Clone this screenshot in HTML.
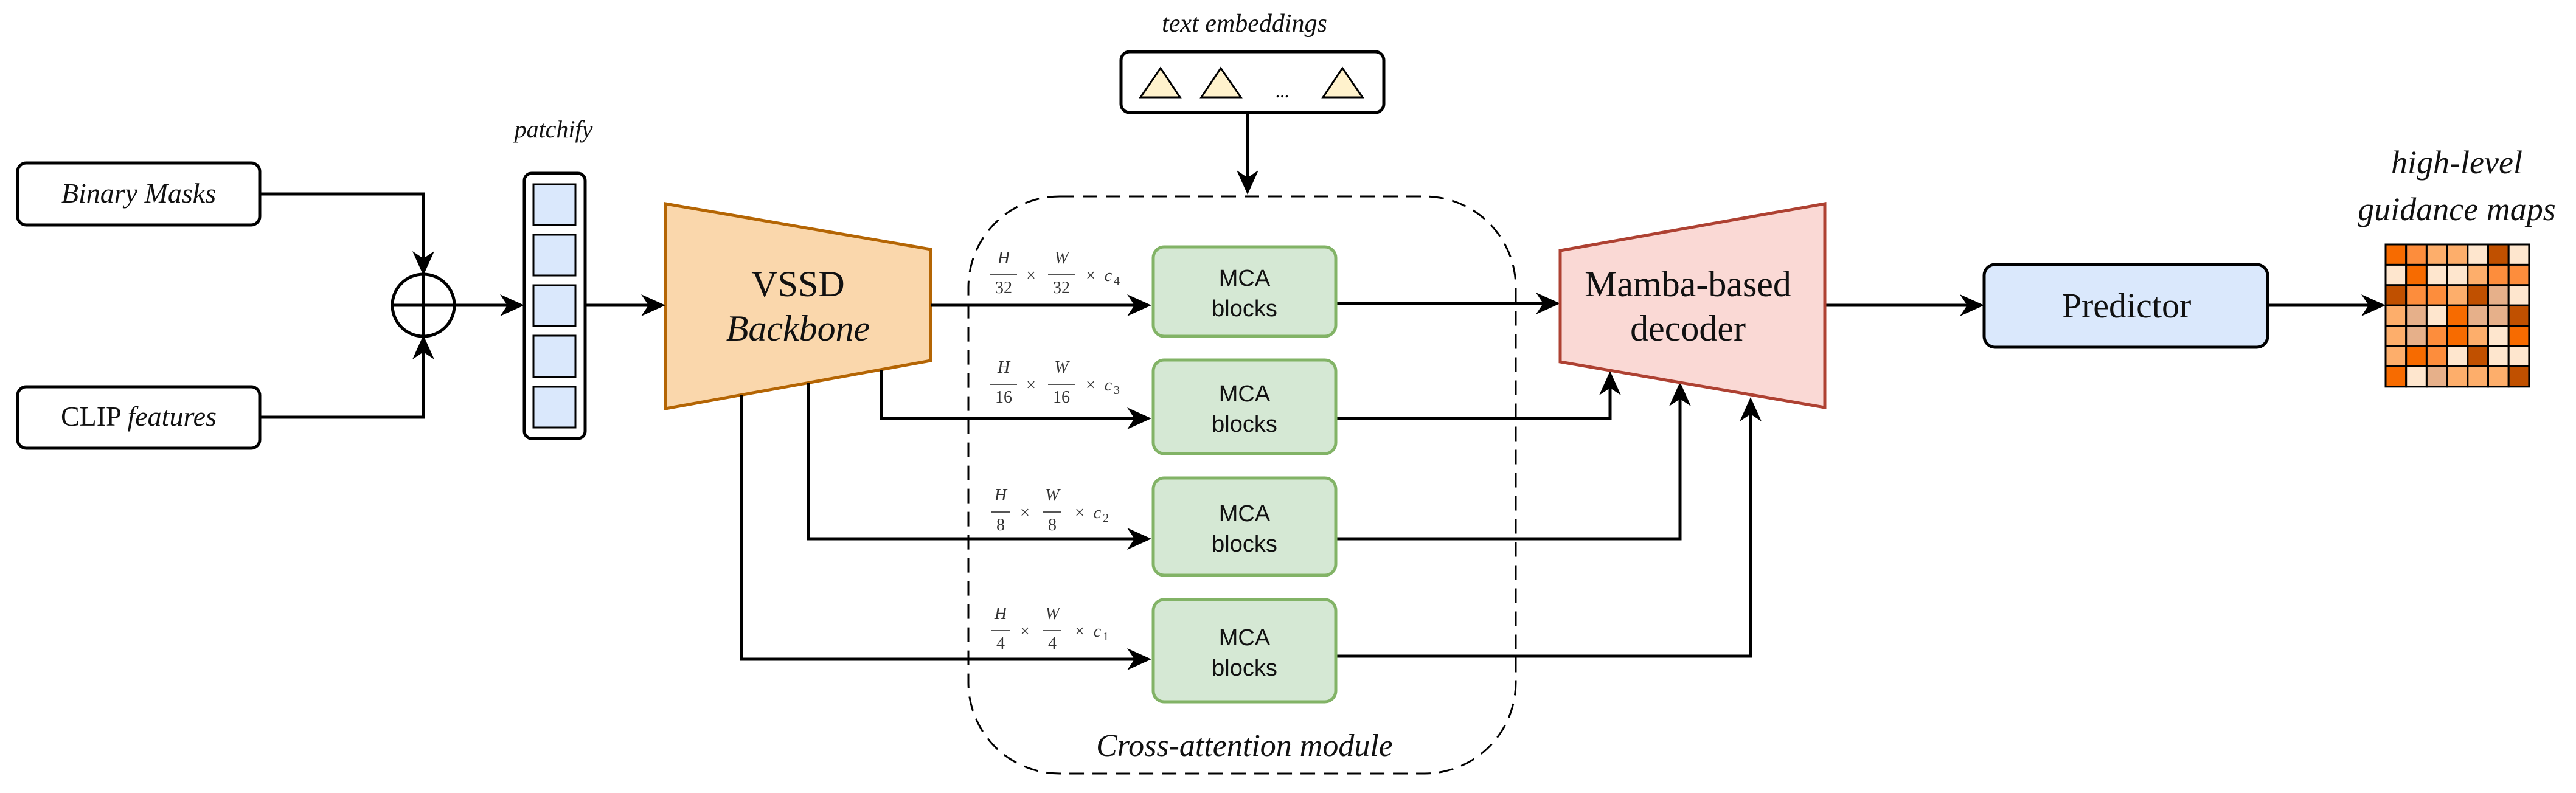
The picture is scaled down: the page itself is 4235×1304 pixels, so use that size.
<!DOCTYPE html>
<html><head><meta charset="utf-8"><style>
html,body{margin:0;padding:0;background:#fff;}
svg{display:block;}
</style></head><body>
<svg width="4235" height="1304" viewBox="0 0 4235 1304" xmlns="http://www.w3.org/2000/svg">
<g stroke="#000" stroke-width="5" fill="none">
<rect x="29" y="268" width="398" height="102" rx="14" fill="#fff"/>
<rect x="29" y="636" width="398" height="101" rx="14" fill="#fff"/>
<polyline points="427,319 696,319 696,430"/>
<polyline points="427,686 696,686 696,575"/>
<circle cx="696" cy="502" r="51" fill="#fff"/>
<line x1="645" y1="502" x2="747" y2="502"/>
<line x1="696" y1="451" x2="696" y2="553"/>
<line x1="747" y1="502" x2="840" y2="502"/>
<line x1="962" y1="502" x2="1072" y2="502"/>
<rect x="862" y="285" width="100" height="436" rx="12" fill="#fff"/>
</g>
<g fill="#dae8fc" stroke="#000" stroke-width="3">
<rect x="877" y="303" width="69" height="67"/>
<rect x="877" y="386" width="69" height="67"/>
<rect x="877" y="469" width="69" height="67"/>
<rect x="877" y="552" width="69" height="68"/>
<rect x="877" y="636" width="69" height="67"/>
</g>
<polygon points="1094,335 1530,410 1530,593 1094,672" fill="#fad7ac" stroke="#b46504" stroke-width="5"/>
<g stroke="#000" stroke-width="5" fill="none">
<line x1="1530" y1="502" x2="1870" y2="502"/>
<polyline points="1449,608 1449,688 1870,688"/>
<polyline points="1329,630 1329,886 1870,886"/>
<polyline points="1219,650 1219,1084 1870,1084"/>
<line x1="2051" y1="185" x2="2051" y2="296"/>
<line x1="2196" y1="499" x2="2542" y2="499"/>
<polyline points="2196,688 2647,688 2647,634"/>
<polyline points="2196,886 2762,886 2762,652"/>
<polyline points="2196,1079 2878,1079 2878,676"/>
<line x1="3000" y1="502" x2="3240" y2="502"/>
<line x1="3728" y1="502" x2="3900" y2="502"/>
</g>
<g fill="#000">
<polygon points="696,453 678,413 696,425 714,413"/>
<polygon points="696,551 678,591 696,579 714,591"/>
<polygon points="862,502 822,484 834,502 822,520"/>
<polygon points="1094,502 1054,484 1066,502 1054,520"/>
<polygon points="1893,502 1853,484 1865,502 1853,520"/>
<polygon points="1893,688 1853,670 1865,688 1853,706"/>
<polygon points="1893,886 1853,868 1865,886 1853,904"/>
<polygon points="1893,1084 1853,1066 1865,1084 1853,1102"/>
<polygon points="2051,320 2033,280 2051,292 2069,280"/>
<polygon points="2565,499 2525,481 2537,499 2525,517"/>
<polygon points="2647,610 2629,650 2647,638 2665,650"/>
<polygon points="2762,628 2744,668 2762,656 2780,668"/>
<polygon points="2878,653 2860,693 2878,681 2896,693"/>
<polygon points="3262,502 3222,484 3234,502 3222,520"/>
<polygon points="3922,502 3882,484 3894,502 3882,520"/>
</g>
<rect x="1592" y="323" width="900" height="949" rx="150" fill="none" stroke="#000" stroke-width="3" stroke-dasharray="24,14"/>
<rect x="1843" y="85" width="432" height="100" rx="14" fill="#fff" stroke="#000" stroke-width="5"/>
<g fill="#fff2cc" stroke="#000" stroke-width="3">
<polygon points="1908,112 1875,160 1940,160"/>
<polygon points="2007,112 1975,160 2040,160"/>
<polygon points="2207,112 2175,160 2240,160"/>
</g>
<text x="2108" y="160" text-anchor="middle" font-family="Liberation Serif, serif" font-size="30">...</text>
<g fill="#d5e8d4" stroke="#82b366" stroke-width="5">
<rect x="1896" y="406" width="300" height="147" rx="18"/>
<rect x="1896" y="592" width="300" height="154" rx="18"/>
<rect x="1896" y="786" width="300" height="160" rx="18"/>
<rect x="1896" y="986" width="300" height="168" rx="18"/>
</g>
<g font-family="Liberation Sans, sans-serif" font-size="38" text-anchor="middle" fill="#111">
<text x="2046" y="470">MCA</text><text x="2046" y="520">blocks</text>
<text x="2046" y="660">MCA</text><text x="2046" y="710">blocks</text>
<text x="2046" y="857">MCA</text><text x="2046" y="907">blocks</text>
<text x="2046" y="1061">MCA</text><text x="2046" y="1111">blocks</text>
</g>
<g font-family="Liberation Serif, serif" fill="#333" font-size="28" text-anchor="middle">
<g>
<text x="1650" y="433" font-style="italic">H</text><line x1="1628" y1="452" x2="1672" y2="452" stroke="#555" stroke-width="2"/><text x="1650" y="482">32</text>
<text x="1695" y="462">×</text>
<text x="1745" y="433" font-style="italic">W</text><line x1="1723" y1="452" x2="1767" y2="452" stroke="#555" stroke-width="2"/><text x="1745" y="482">32</text>
<text x="1793" y="462">×</text><text x="1822" y="462" font-style="italic">c</text><text x="1836" y="468" font-size="20">4</text>
</g>
<g transform="translate(0,180)">
<text x="1650" y="433" font-style="italic">H</text><line x1="1628" y1="452" x2="1672" y2="452" stroke="#555" stroke-width="2"/><text x="1650" y="482">16</text>
<text x="1695" y="462">×</text>
<text x="1745" y="433" font-style="italic">W</text><line x1="1723" y1="452" x2="1767" y2="452" stroke="#555" stroke-width="2"/><text x="1745" y="482">16</text>
<text x="1793" y="462">×</text><text x="1822" y="462" font-style="italic">c</text><text x="1836" y="468" font-size="20">3</text>
</g>
<g transform="translate(-5,390)">
<text x="1650" y="433" font-style="italic">H</text><line x1="1635" y1="452" x2="1665" y2="452" stroke="#555" stroke-width="2"/><text x="1650" y="482">8</text>
<text x="1690" y="462">×</text>
<text x="1735" y="433" font-style="italic">W</text><line x1="1720" y1="452" x2="1750" y2="452" stroke="#555" stroke-width="2"/><text x="1735" y="482">8</text>
<text x="1780" y="462">×</text><text x="1809" y="462" font-style="italic">c</text><text x="1823" y="468" font-size="20">2</text>
</g>
<g transform="translate(-5,585)">
<text x="1650" y="433" font-style="italic">H</text><line x1="1635" y1="452" x2="1665" y2="452" stroke="#555" stroke-width="2"/><text x="1650" y="482">4</text>
<text x="1690" y="462">×</text>
<text x="1735" y="433" font-style="italic">W</text><line x1="1720" y1="452" x2="1750" y2="452" stroke="#555" stroke-width="2"/><text x="1735" y="482">4</text>
<text x="1780" y="462">×</text><text x="1809" y="462" font-style="italic">c</text><text x="1823" y="468" font-size="20">1</text>
</g>
</g>
<polygon points="2565,412 3000,335 3000,670 2565,595" fill="#fad9d5" stroke="#ae4132" stroke-width="5"/>
<rect x="3262" y="435" width="466" height="136" rx="18" fill="#dae8fc" stroke="#000" stroke-width="5"/>
<g stroke="#000" stroke-width="3">
<g transform="translate(3922,402)">
<rect x="0" y="0" width="33.7" height="33.4" fill="#f76b00"/><rect x="33.7" y="0" width="33.7" height="33.4" fill="#fd8d3c"/><rect x="67.4" y="0" width="33.7" height="33.4" fill="#fdae6b"/><rect x="101.1" y="0" width="33.7" height="33.4" fill="#fdae6b"/><rect x="134.8" y="0" width="33.7" height="33.4" fill="#fee6ce"/><rect x="168.5" y="0" width="33.7" height="33.4" fill="#c05000"/><rect x="202.2" y="0" width="33.7" height="33.4" fill="#fee6ce"/>
<rect x="0" y="33.4" width="33.7" height="33.4" fill="#fee6ce"/><rect x="33.7" y="33.4" width="33.7" height="33.4" fill="#f76b00"/><rect x="67.4" y="33.4" width="33.7" height="33.4" fill="#fee6ce"/><rect x="101.1" y="33.4" width="33.7" height="33.4" fill="#fee6ce"/><rect x="134.8" y="33.4" width="33.7" height="33.4" fill="#fdae6b"/><rect x="168.5" y="33.4" width="33.7" height="33.4" fill="#fd8d3c"/><rect x="202.2" y="33.4" width="33.7" height="33.4" fill="#fd8d3c"/>
<rect x="0" y="66.8" width="33.7" height="33.4" fill="#c05000"/><rect x="33.7" y="66.8" width="33.7" height="33.4" fill="#fd8d3c"/><rect x="67.4" y="66.8" width="33.7" height="33.4" fill="#fd8d3c"/><rect x="101.1" y="66.8" width="33.7" height="33.4" fill="#fdae6b"/><rect x="134.8" y="66.8" width="33.7" height="33.4" fill="#c05000"/><rect x="168.5" y="66.8" width="33.7" height="33.4" fill="#e6b08a"/><rect x="202.2" y="66.8" width="33.7" height="33.4" fill="#fee6ce"/>
<rect x="0" y="100.2" width="33.7" height="33.4" fill="#fdae6b"/><rect x="33.7" y="100.2" width="33.7" height="33.4" fill="#e6b08a"/><rect x="67.4" y="100.2" width="33.7" height="33.4" fill="#fee6ce"/><rect x="101.1" y="100.2" width="33.7" height="33.4" fill="#f76b00"/><rect x="134.8" y="100.2" width="33.7" height="33.4" fill="#e6b08a"/><rect x="168.5" y="100.2" width="33.7" height="33.4" fill="#e6b08a"/><rect x="202.2" y="100.2" width="33.7" height="33.4" fill="#c05000"/>
<rect x="0" y="133.6" width="33.7" height="33.4" fill="#fdae6b"/><rect x="33.7" y="133.6" width="33.7" height="33.4" fill="#e6b08a"/><rect x="67.4" y="133.6" width="33.7" height="33.4" fill="#fd8d3c"/><rect x="101.1" y="133.6" width="33.7" height="33.4" fill="#f76b00"/><rect x="134.8" y="133.6" width="33.7" height="33.4" fill="#fdae6b"/><rect x="168.5" y="133.6" width="33.7" height="33.4" fill="#fee6ce"/><rect x="202.2" y="133.6" width="33.7" height="33.4" fill="#f76b00"/>
<rect x="0" y="167" width="33.7" height="33.4" fill="#fdae6b"/><rect x="33.7" y="167" width="33.7" height="33.4" fill="#f76b00"/><rect x="67.4" y="167" width="33.7" height="33.4" fill="#fd8d3c"/><rect x="101.1" y="167" width="33.7" height="33.4" fill="#fee6ce"/><rect x="134.8" y="167" width="33.7" height="33.4" fill="#c05000"/><rect x="168.5" y="167" width="33.7" height="33.4" fill="#fee6ce"/><rect x="202.2" y="167" width="33.7" height="33.4" fill="#fee6ce"/>
<rect x="0" y="200.4" width="33.7" height="33.4" fill="#f76b00"/><rect x="33.7" y="200.4" width="33.7" height="33.4" fill="#fee6ce"/><rect x="67.4" y="200.4" width="33.7" height="33.4" fill="#e6b08a"/><rect x="101.1" y="200.4" width="33.7" height="33.4" fill="#fdae6b"/><rect x="134.8" y="200.4" width="33.7" height="33.4" fill="#fdae6b"/><rect x="168.5" y="200.4" width="33.7" height="33.4" fill="#fdae6b"/><rect x="202.2" y="200.4" width="33.7" height="33.4" fill="#c05000"/>
</g>
</g>
<g font-family="Liberation Serif, serif" fill="#111" text-anchor="middle">
<text x="228" y="333" font-size="46" font-style="italic">Binary Masks</text>
<text x="228" y="700" font-size="46">CLIP <tspan font-style="italic">features</tspan></text>
<text x="910" y="226" font-size="40" font-style="italic">patchify</text>
<text x="1312" y="487" font-size="60">VSSD</text>
<text x="1312" y="560" font-size="60" font-style="italic">Backbone</text>
<text x="2046" y="52" font-size="42" font-style="italic">text embeddings</text>
<text x="2046" y="1243" font-size="52" font-style="italic">Cross-attention module</text>
<text x="2775" y="487" font-size="60">Mamba-based</text>
<text x="2775" y="560" font-size="60">decoder</text>
<text x="3496" y="522" font-size="58">Predictor</text>
<text x="4039" y="285" font-size="54" font-style="italic">high-level</text>
<text x="4039" y="362" font-size="54" font-style="italic">guidance maps</text>
</g>
</svg>
</body></html>
